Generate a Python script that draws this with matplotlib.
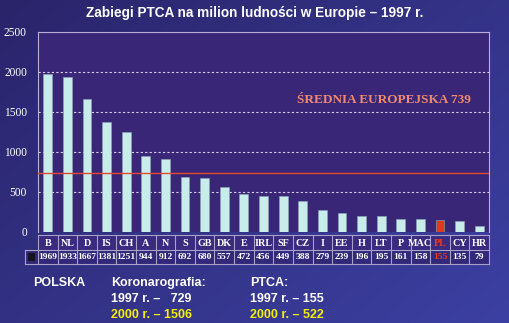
import numpy as np
import matplotlib
matplotlib.use("Agg")
import matplotlib.pyplot as plt
from matplotlib.patches import Rectangle

# ---- data ----
countries = ["B", "NL", "D", "IS", "CH", "A", "N", "S", "GB", "DK", "E", "IRL",
             "SF", "CZ", "I", "EE", "H", "LT", "P", "MAC", "PL", "CY", "HR"]
ptca = [1969, 1933, 1667, 1381, 1251, 944, 912, 692, 680, 557, 472, 456,
        449, 388, 279, 239, 196, 195, 161, 158, 155, 135, 79]
european_mean = 739
highlight = "PL"
yticks = [0, 500, 1000, 1500, 2000, 2500]

title = "Zabiegi PTCA na milion ludności w Europie – 1997 r."
mean_label = "ŚREDNIA EUROPEJSKA 739"

W, H = 510, 323
fig = plt.figure(figsize=(W / 100, H / 100), dpi=100)

# background gradient
bg = fig.add_axes([0, 0, 1, 1], zorder=-10)
gx = np.linspace(0, 1, 200)
gy = np.linspace(0, 1, 200)
GX, GY = np.meshgrid(gx, gy)
t = np.clip(0.55 * GX + 0.45 * (1 - GY), 0, 1)
c0 = np.array([0x2a, 0x24, 0x6a]) / 255
c1 = np.array([0x3c, 0x40, 0xa2]) / 255
img = c0[None, None, :] * (1 - t[..., None]) + c1[None, None, :] * t[..., None]
bg.imshow(img, extent=[0, 1, 0, 1], aspect="auto", origin="lower")
bg.set_axis_off()


def px2fig(x0, y0, x1, y1):
    return [x0 / W, 1 - y1 / H, (x1 - x0) / W, (y1 - y0) / H]


ax = fig.add_axes(px2fig(38, 32, 489, 232))
ax.set_facecolor("#3a2676")
n = len(countries)
x = np.arange(n)
colors = ["#e03a1e" if c == highlight else "#c8ecea" for c in countries]
ax.bar(x, ptca, width=0.45, color=colors, edgecolor="#8aa8b8", linewidth=0.4, zorder=3)
ax.set_xlim(-0.5, n - 0.5)
ax.set_ylim(0, 2500)
ax.set_yticks(yticks)
ax.set_yticklabels([str(v) for v in yticks], family="Liberation Serif",
                   fontsize=8.3, color="white")
ax.tick_params(axis="y", length=0, pad=8)
ax.set_xticks([])
for v in yticks[1:-1]:
    ax.axhline(v, color="#d8d0f0", lw=0.8, ls=(0, (2, 2)), zorder=1)
ax.axhline(european_mean, color="#e04a30", lw=1.0, zorder=4)
for s in ["left", "top", "right"]:
    ax.spines[s].set_color("#b8b0d8")
    ax.spines[s].set_linewidth(0.8)
ax.spines["bottom"].set_visible(False)

ax.text(0.767, 0.66, mean_label, transform=ax.transAxes, ha="center", va="center",
        family="Liberation Serif", fontweight="bold", fontsize=9.5, color="#f08a72")

# ---- table ----
tab = fig.add_axes(px2fig(38, 235, 489, 264))
tab.set_xlim(-0.5, n - 0.5)
tab.set_ylim(0, 2)
tab.set_axis_off()
tab.patch.set_visible(False)
key_w = 0.66
gc = "#a8a0c8"
tab.add_patch(Rectangle((-0.5, 1), n, 1, facecolor="#3a2a80", edgecolor="none",
                        clip_on=False, zorder=0))
tab.add_patch(Rectangle((-0.5 - key_w, 0), n + key_w, 1, facecolor="#32287a",
                        edgecolor="none", clip_on=False, zorder=0))
lw = 0.8
tab.plot([-0.5, n - 0.5], [2, 2], color=gc, lw=lw, clip_on=False)
tab.plot([-0.5 - key_w, n - 0.5], [1, 1], color=gc, lw=lw, clip_on=False)
tab.plot([-0.5 - key_w, n - 0.5], [0, 0], color=gc, lw=lw, clip_on=False)
tab.plot([-0.5 - key_w, -0.5 - key_w], [0, 1], color=gc, lw=lw, clip_on=False)
for i in range(n + 1):
    tab.plot([i - 0.5, i - 0.5], [0, 2], color=gc, lw=lw, clip_on=False)
tab.add_patch(Rectangle((-0.5 - key_w * 0.75, 0.22), key_w * 0.5, 0.56,
                        facecolor="#141424", edgecolor="none", clip_on=False))
for i, (c, v) in enumerate(zip(countries, ptca)):
    col = "#f03a20" if c == highlight else "white"
    tab.text(i, 1.42, c, ha="center", va="center", family="Liberation Serif",
             fontweight="bold", fontsize=7.3, color=col, clip_on=False)
    tab.text(i, 0.48, str(v), ha="center", va="center", family="Liberation Serif",
             fontweight="bold", fontsize=6.8, color=col, clip_on=False)

# ---- title & bottom text ----
fig.text(0.5, 1 - 13 / H, title, ha="center", va="center", family="Liberation Sans",
         fontweight="bold", fontsize=9.8, color="white")

sans = dict(family="Liberation Sans", fontweight="bold", fontsize=9.0, va="center")
fig.text(33 / W, 1 - 283 / H, "POLSKA", color="white", **sans)
fig.text(111 / W, 1 - 283 / H, "Koronarografia:", color="white", **sans)
fig.text(111 / W, 1 - 299 / H, "1997 r. –   729", color="white", **sans)
fig.text(111 / W, 1 - 315 / H, "2000 r. – 1506", color="#f4f000", **sans)
fig.text(250 / W, 1 - 283 / H, "PTCA:", color="white", **sans)
fig.text(250 / W, 1 - 299 / H, "1997 r. – 155", color="white", **sans)
fig.text(250 / W, 1 - 315 / H, "2000 r. – 522", color="#f4f000", **sans)

fig.savefig("out.png", dpi=100)
